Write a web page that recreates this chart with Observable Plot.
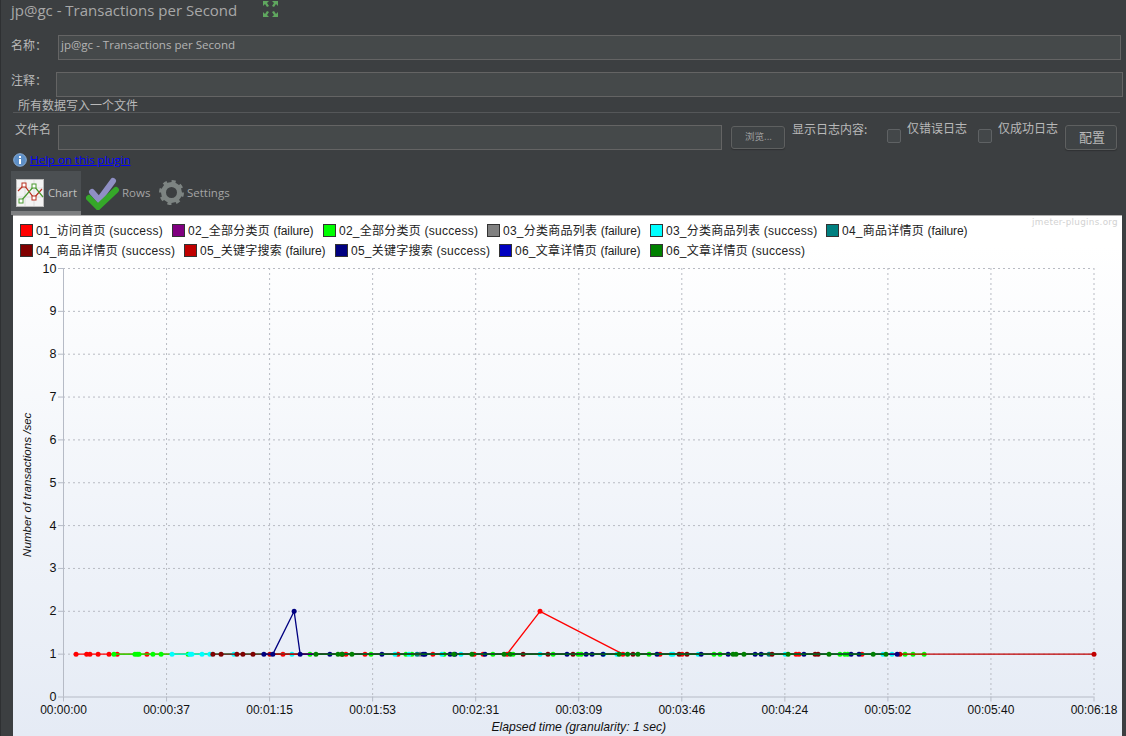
<!DOCTYPE html>
<html lang="zh">
<head>
<meta charset="utf-8">
<script src="https://cdn.jsdelivr.net/npm/d3@7"></script>
<script src="https://cdn.jsdelivr.net/npm/@observablehq/plot@0.6"></script>
<style>
  html,body{margin:0;padding:0;background:#3c3f41;}
  #app{position:relative;width:1126px;height:736px;overflow:hidden;background:#3c3f41;font-family:"Noto Sans CJK SC","Open Sans",sans-serif;font-size:12px;color:#b9b9b9;}
  #app .a{position:absolute;white-space:nowrap;line-height:1;}
  .field{position:absolute;box-sizing:border-box;background:#45494a;border:1px solid #646464;}
  .btn{position:absolute;box-sizing:border-box;border:1px solid #5e6060;border-radius:3px;background:#3f4345;box-shadow:0 1px 1px #2f3133;text-align:center;}
  .chk{position:absolute;box-sizing:border-box;width:14px;height:14px;border:1px solid #5f6264;border-radius:2px;background:#434749;}
  #panel{position:absolute;left:13px;top:215px;width:1109px;height:521px;background:linear-gradient(#ffffff 0,#ffffff 30px,#e5ebf5 100%);border-top:1px solid #b0b0b0;box-sizing:border-box;}
  #panel svg{position:absolute;left:0;top:42px;background:transparent;}
  .sw{position:absolute;box-sizing:border-box;width:13px;height:13px;border:1px solid #333;}
  .lg{position:absolute;white-space:nowrap;line-height:1;font-size:12px;color:#222;font-family:"Liberation Sans","Noto Sans CJK SC",sans-serif;letter-spacing:.25px;}
</style>
</head>
<body>
<div id="app"></div>
<script>
// ---- legend / series
const seriesNames = ["01_访问首页 (success)","02_全部分类页 (failure)","02_全部分类页 (success)","03_分类商品列表 (failure)","03_分类商品列表 (success)","04_商品详情页 (failure)","04_商品详情页 (success)","05_关键字搜索 (failure)","05_关键字搜索 (success)","06_文章详情页 (failure)","06_文章详情页 (success)"];
const seriesColors = ["#ff0000","#800080","#00ff00","#808080","#00ffff","#008080","#800000","#c00000","#000080","#0000c0","#008000"];

// ---- [elapsed seconds, transactions per second]
const s01ok = [[4.6,1],[8.5,1],[9.7,1],[12.7,1],[16.7,1],[19.7,1],[30.6,1],[80.5,1],[103.6,1],[110.6,1],[122.7,1],[135.5,1],[150.6,1],[153.9,1],[162.7,1],[174.8,2],[205.2,1],[218.8,1],[226.9,1],[268.7,1],[269.8,1],[292.9,1]];
const s02fail = [];
const s02ok = [[18.5,1],[26.2,1],[27,1],[27.7,1],[32.8,1],[35.8,1],[45.7,1],[90.4,1],[112.8,1],[125.6,1],[127.8,1],[139.6,1],[157.5,1],[164.9,1],[179.6,1],[188.8,1],[189.9,1],[214.8,1],[238.6,1],[240.8,1],[284.8,1],[286.6,1],[287.7,1],[308.7,1],[311.6,1],[315.7,1]];
const s03fail = [[130.8,1]];
const s03ok = [[39.8,1],[46.4,1],[47.1,1],[50.8,1],[53.7,1],[62.5,1],[83.8,1],[121.6,1],[126.7,1],[138.8,1],[145.8,1],[174.8,1],[198.1,1],[203,1],[222.9,1],[223.6,1],[232.8,1],[264.7,1],[300.6,1],[303.9,1]];
const s04fail = [[129.7,1],[258.8,1]];
const s04ok = [[54.8,1],[57.8,1],[63.6,1],[65.8,1],[69.5,1],[102.2,1],[168.6,1],[177.7,1],[186.9,1],[208.9,1],[225.8,1],[228.7,1],[259.9,1],[275.7,1],[276.8,1]];
const s05fail = [[75.7,1],[306.8,1],[378,1]];
const s05ok = [[73.5,1],[76.8,1],[84.6,2],[86.8,1],[97.7,1],[116.8,1],[131.9,1],[132.6,1],[141.8,1],[143.6,1],[154.6,1],[184.7,1],[191.7,1],[193.9,1],[197.9,1],[217.7,1],[233.9,1],[243.8,1],[253.7,1],[255.9,1],[271.6,1],[288.9,1],[291.8,1],[305.8,1]];
const s06fail = [];
const s06ok = [[92.6,1],[100.7,1],[102.2,1],[105.8,1],[143.2,1],[149.8,1],[161.6,1],[163.8,1],[203.8,1],[206.9,1],[210.7,1],[245.6,1],[246.7,1],[249.6,1],[265.8,1],[280.8,1],[297,1],[301.7,1]];
const seriesData = [s01ok,s02fail,s02ok,s03fail,s03ok,s04fail,s04ok,s05fail,s05ok,s06fail,s06ok];

// ---- axes
const xTickValues = [0,37.8,75.6,113.4,151.2,189,226.8,264.6,302.4,340.2,378];
const xTickLabels = ["00:00:00","00:00:37","00:01:15","00:01:53","00:02:31","00:03:09","00:03:46","00:04:24","00:05:02","00:05:40","00:06:18"];
const yTickValues = [0,1,2,3,4,5,6,7,8,9,10];
const xTitle = "Elapsed time (granularity: 1 sec)";
const yTitle = "Number of transactions /sec";

// ---- page chrome
const app = document.getElementById("app");
function add(html){ app.insertAdjacentHTML("beforeend", html); }
function txt(x,y,s,extra=""){ add(`<div class="a" style="left:${x}px;top:${y}px;${extra}">${s}</div>`); }

add(`<div style="position:absolute;left:0;top:0;width:1px;height:736px;background:#2e3032"></div>`);
txt(11,3,"jp@gc - Transactions per Second","font-family:'Open Sans';font-size:15px;color:#a8a8a8;");
add(`<svg style="position:absolute;left:262px;top:0" width="18" height="18" viewBox="0 0 18 18">
<g fill="#5fa75f"><path d="M1 1h6l-2 2 2 3-2 1-2-3-2 2z"/><path d="M16 1h-6l2 2-2 3 2 1 2-3 2 2z"/><path d="M1 17h6l-2-2 2-3-2-1-2 3-2-2z"/><path d="M16 17h-6l2-2-2-3 2-1 2 3 2-2z"/></g></svg>`);

txt(11,39,"名称：");
add(`<div class="field" style="left:58px;top:35px;width:1063px;height:25px"></div>`);
txt(61,39,"jp@gc - Transactions per Second","font-family:'Open Sans';font-size:11.55px;color:#b4b4b4;");
txt(11,74,"注释：");
add(`<div class="field" style="left:56px;top:72px;width:1067px;height:25px"></div>`);
add(`<div style="position:absolute;left:13px;top:112px;width:1107px;height:1px;background:#555759"></div>`);
txt(16,99,"所有数据写入一个文件","background:#3c3f41;padding:0 2px;");
txt(15,123,"文件名");
add(`<div class="field" style="left:58px;top:125px;width:664px;height:25px"></div>`);
add(`<div class="btn" style="left:731px;top:126px;width:54px;height:23px"></div>`);
txt(745,132,"浏览...","font-size:9.5px;color:#a0a0a0;");
txt(792,123,"显示日志内容:");
add(`<div class="chk" style="left:887px;top:129px"></div>`);
txt(907,122,"仅错误日志");
add(`<div class="chk" style="left:978px;top:129px"></div>`);
txt(998,122,"仅成功日志");
add(`<div class="btn" style="left:1065px;top:125px;width:52px;height:25px;"></div>`);
txt(1079,130,"配置","font-size:13px;");

add(`<svg style="position:absolute;left:13px;top:153px" width="14" height="14"><circle cx="7" cy="7" r="6.3" fill="#5d8fc7" stroke="#8aaed6"/><rect x="6" y="6" width="2" height="5" fill="#fff"/><rect x="6" y="3" width="2" height="2" fill="#fff"/></svg>`);
txt(30,154,"Help on this plugin","font-family:'Open Sans';font-size:11.5px;color:#0000ff;text-decoration:underline;");

add(`<div style="position:absolute;left:11px;top:171px;width:70px;height:41px;background:#4b4f52;"></div>`);
add(`<div style="position:absolute;left:11px;top:211px;width:70px;height:4px;background:#7d7f81;"></div>`);
add(`<svg style="position:absolute;left:16px;top:179px" width="28" height="28"><rect x="0.5" y="0.5" width="27" height="27" fill="#f3f3f3" stroke="#bbb"/><path d="M1 9h26M1 18h26M9 1v26M18 1v26" stroke="#ddd"/><path d="M2 12L8 6l10 13 8-9" fill="none" stroke="#b83020" stroke-width="1.2"/><path d="M5 22L18 7l9 11" fill="none" stroke="#4a9a30" stroke-width="1.2"/><rect x="6" y="4" width="4" height="4" fill="#fff" stroke="#b83020"/><rect x="16" y="17" width="4" height="4" fill="#fff" stroke="#b83020"/><rect x="16" y="5" width="4" height="4" fill="#fff" stroke="#4a9a30"/><rect x="3" y="20" width="4" height="4" fill="#fff" stroke="#4a9a30"/></svg>`);
txt(48,187,"Chart","font-family:'Open Sans';font-size:11.3px;color:#c0c0c0;");
add(`<svg style="position:absolute;left:86px;top:176px" width="34" height="34"><path d="M6 16l7 8L27 5" fill="none" stroke="#8f8fc4" stroke-width="6" stroke-linecap="round"/><path d="M3 22l9 9L30 14" fill="none" stroke="#35a829" stroke-width="6" stroke-linecap="round"/></svg>`);
txt(122,187,"Rows","font-family:'Open Sans';font-size:11.5px;color:#a4a4a4;");
add(`<svg style="position:absolute;left:159px;top:180px" width="25" height="25" viewBox="0 0 25 25"><circle cx="12.5" cy="12.5" r="8" fill="none" stroke="#7d8482" stroke-width="5"/><circle cx="12.5" cy="12.5" r="11" fill="none" stroke="#7d8482" stroke-width="3" stroke-dasharray="4 4.6"/></svg>`);
txt(187,187,"Settings","font-family:'Open Sans';font-size:11.5px;color:#a4a4a4;");

// ---- chart panel
add(`<div id="panel"></div>`);
const panel = document.getElementById("panel");
const legendX = [20,172,323,487,650,826,20,184,335,499,650];
const legendRow = [0,0,0,0,0,0,1,1,1,1,1];
seriesNames.forEach((name,i)=>{
  const left = legendX[i]-13, top = 8+legendRow[i]*20;
  const label = name.replace("(failure)",`<span style="letter-spacing:-.1px">(failure)</span>`);
  panel.insertAdjacentHTML("beforeend",`<div class="sw" style="left:${left}px;top:${top}px;background:${seriesColors[i]}"></div><div class="lg" style="left:${left+16}px;top:${top+1}px">${label}</div>`);
});
panel.insertAdjacentHTML("beforeend",`<div class="a" style="right:4px;top:2px;font-family:'DejaVu Sans';font-size:8.8px;color:#d2d2d2;letter-spacing:.3px;">jmeter-plugins.org</div>`);

// ---- plot
const rows = seriesData.map((pts,i)=>pts.map(([t,v])=>({t,v,name:seriesNames[i]})));
const AXIS = "#b6bbc6";
const GRID = "#b8bbc3";
const seriesMarks = rows.flatMap(r=>r.length?[
  Plot.line(r,{x:"t",y:"v",stroke:"name",strokeWidth:1.3}),
  Plot.dot(r,{x:"t",y:"v",fill:"name",r:2.5})
]:[]);
const chart = Plot.plot({
  width:1109, height:478,
  marginLeft:50, marginRight:28.5, marginTop:10, marginBottom:39.5,
  style:{background:"transparent",fontFamily:"'Liberation Sans',Arial,sans-serif",fontSize:"12px",color:"#111",overflow:"visible"},
  x:{domain:[0,378]},
  y:{domain:[0,10]},
  color:{domain:seriesNames,range:seriesColors},
  marks:[
    Plot.gridX(xTickValues.slice(1),{stroke:GRID,strokeOpacity:1,strokeDasharray:"2,3"}),
    Plot.gridY(yTickValues.slice(1),{stroke:GRID,strokeOpacity:1,strokeDasharray:"2,3"}),
    Plot.ruleX([0],{stroke:AXIS}),
    Plot.ruleY([0],{stroke:AXIS}),
    Plot.axisX({ticks:xTickValues,tickFormat:(d)=>xTickLabels[xTickValues.indexOf(d)],tickSize:5,tickPadding:3,stroke:AXIS,strokeOpacity:1,label:null,fill:"#111",fontSize:12}),
    Plot.axisY({ticks:yTickValues,tickSize:5,tickPadding:2,stroke:AXIS,strokeOpacity:1,label:null,fill:"#111",fontSize:12.5,tickFormat:d=>String(d)}),
    Plot.text([xTitle],{text:d=>d,frameAnchor:"bottom",dy:30,fontStyle:"italic",fontSize:12.2,fill:"#111",lineAnchor:"middle"}),
    Plot.text([yTitle],{text:d=>d,frameAnchor:"left",dx:-36,dy:2,rotate:-90,textAnchor:"middle",fontStyle:"italic",fontSize:11.6,fill:"#111"}),
    ...seriesMarks
  ]
});
panel.appendChild(chart);
</script>
</body>
</html>
